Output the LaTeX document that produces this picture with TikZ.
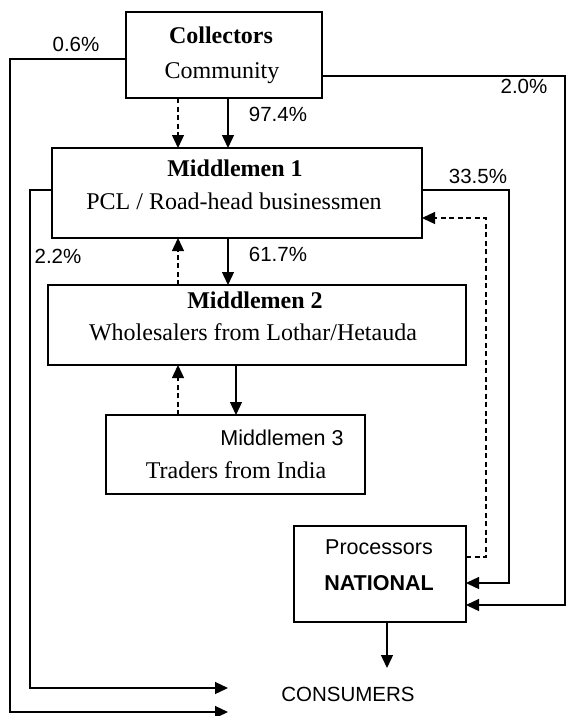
\documentclass[tikz,border=0pt]{standalone}
\usepackage{fontspec}
\setmainfont{Liberation Serif}
\setsansfont{Liberation Sans}
\usetikzlibrary{arrows.meta}
\begin{document}
\begin{tikzpicture}[x=1pt,y=-1pt,
  box/.style={draw,line width=1.3pt,outer sep=0pt,inner sep=0pt,rectangle},
  flow/.style={line width=1.3pt,-{Triangle[length=13pt,width=12pt]}},
  dflow/.style={flow,dash pattern=on 5pt off 3.5pt},
  ser/.style={inner sep=0pt,text height=0.66em,text depth=0pt,font=\fontsize{24}{28}\selectfont},
  serb/.style={ser,font=\fontsize{24}{28}\selectfont\bfseries},
  sans/.style={inner sep=0pt,text height=0.72em,text depth=0pt,font=\fontsize{20.5}{24}\selectfont\sffamily},
  sansm/.style={sans,font=\fontsize{21.5}{24}\selectfont\sffamily},
  sansb/.style={sans,font=\fontsize{21.5}{24}\selectfont\sffamily\bfseries},
  pct/.style={sans}]
\useasboundingbox (0,0) rectangle (566,716);
% boxes
\node[box,minimum width=196pt,minimum height=86pt] (col) at (224,55) {};
\node[box,minimum width=370pt,minimum height=90pt] (m1) at (237,193) {};
\node[box,minimum width=418pt,minimum height=80pt] (m2) at (257,325) {};
\node[box,minimum width=259pt,minimum height=79pt] (m3) at (235.5,454.5) {};
\node[box,minimum width=172pt,minimum height=96pt] (proc) at (380,574) {};
% texts
\node[serb] (t1) at (221,40) {Collectors};
\node[ser] (t2) at (222,75) {Community};
\node[serb] (t3) at (235,173) {Middlemen 1};
\node[ser] (t4) at (234,206) {PCL / Road-head businessmen};
\node[serb] (t5) at (255,305) {Middlemen 2};
\node[ser] (t6) at (253,337) {Wholesalers from Lothar/Hetauda};
\node[sansm] (t7) at (282,442) {Middlemen 3};
\node[ser] (t8) at (236,475) {Traders from India};
\node[sansm] (t9) at (379,551) {Processors};
\node[sansb] (t10) at (379,587) {NATIONAL};
\node[sans] (cons) at (348,698) {CONSUMERS};
% percentages
\node[pct] (p1) at (76,48) {0.6\%};
\node[pct] (p2) at (524,90) {2.0\%};
\node[pct] (p3) at (278,118) {97.4\%};
\node[pct] (p4) at (478,180) {33.5\%};
\node[pct] (p5) at (58,260) {2.2\%};
\node[pct] (p6) at (278,258) {61.7\%};
% helper coordinates
\coordinate (xd) at (178,0);
\coordinate (xs) at (228,0);
\coordinate (xs2) at (236,0);
\coordinate (xo) at (10,0);
\coordinate (xi) at (30,0);
\coordinate (xr) at (509,0);
\coordinate (xrr) at (565,0);
\coordinate (xdr) at (486,0);
\coordinate (ya) at (0,59);
\coordinate (yb) at (0,76);
\coordinate (ym) at (0,190);
\coordinate (ymd) at (0,218);
\coordinate (ypd) at (0,557);
\coordinate (yp1) at (0,583);
\coordinate (yp2) at (0,605);
\coordinate (end1) at (228,688);
\coordinate (end2) at (228,712);
\coordinate (pend) at (387,668);
% long connectors
\draw[flow] (col.west |- ya) -| (xo |- end2) -- (end2);
\draw[flow] (m1.west |- ym) -| (xi |- end1) -- (end1);
\draw[flow] (col.east |- yb) -| (xrr |- yp2) -- (proc.east |- yp2);
\draw[flow] (m1.east |- ym) -| (xr |- yp1) -- (proc.east |- yp1);
\draw[dflow] (proc.east |- ypd) -| (xdr |- ymd) -- (m1.east |- ymd);
% vertical arrows
\draw[flow] (col.south -| xs) -- (m1.north -| xs);
\draw[dflow] (col.south -| xd) -- (m1.north -| xd);
\draw[flow] (m1.south -| xs) -- (m2.north -| xs);
\draw[dflow] (m2.north -| xd) -- (m1.south -| xd);
\draw[flow] (m2.south -| xs2) -- (m3.north -| xs2);
\draw[dflow] (m3.north -| xd) -- (m2.south -| xd);
\draw[flow] (proc.south -| pend) -- (pend);
\end{tikzpicture}
\end{document}
